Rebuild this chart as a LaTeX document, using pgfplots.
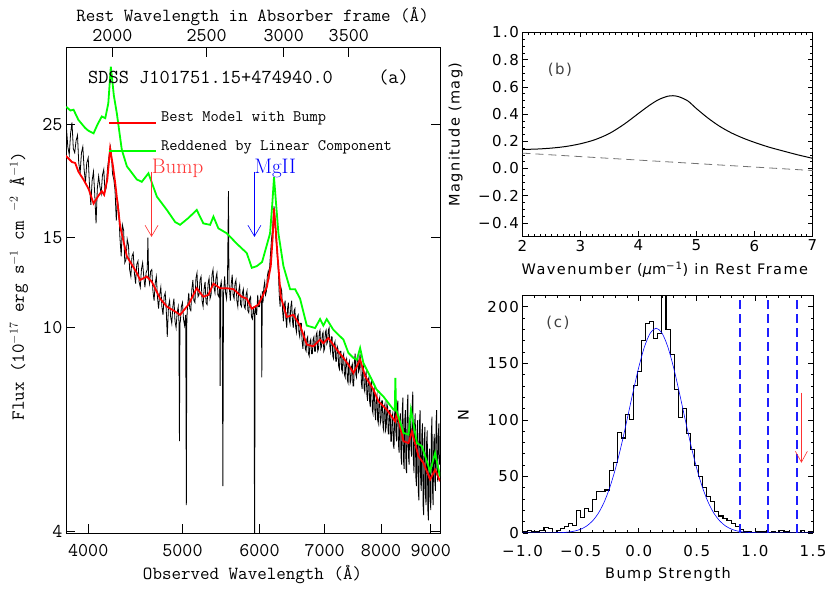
\documentclass[border=0pt]{standalone}
\usepackage{fontspec}
\usepackage{pgfplots}
\pgfplotsset{compat=1.18}
\usetikzlibrary{arrows.meta}
\newfontfamily\dv[LetterSpace=10]{DejaVu Sans}
\newcommand\tta{\ttfamily\fontsize{19.5bp}{21bp}\selectfont}
\newcommand\ttb{\ttfamily\fontsize{18.5bp}{20bp}\selectfont}
\newcommand\ttc{\ttfamily\fontsize{19.8bp}{21bp}\selectfont}
\newcommand\ttl{\ttfamily\fontsize{16bp}{18bp}\selectfont}
\newcommand\rmb{\rmfamily\fontsize{21bp}{23bp}\selectfont}
\newcommand\dvt{\dv\fontsize{15bp}{17bp}\selectfont}
\newcommand\dvl{\dv\fontsize{14.5bp}{17bp}\selectfont}
\definecolor{rd}{RGB}{255,0,0}
\definecolor{gr}{RGB}{0,255,0}
\definecolor{bl}{RGB}{0,0,255}
\definecolor{dbl}{RGB}{30,30,255}
\definecolor{lrd}{RGB}{255,50,50}
\begin{document}
\begin{tikzpicture}
\path[use as bounding box] (0,0) rectangle (830bp,593bp);
% ---------------- panel (a) ----------------
\begin{axis}[
  at={(66bp,60bp)}, anchor=south west, scale only axis,
  width=374bp, height=485.3bp,
  xmode=log, ymode=log,
  xmin=3796, xmax=9199, ymin=3.97, ymax=35.3,
  xtick={4000,5000,6000,7000,8000,9000},
  xticklabels={4000,5000,6000,7000,8000,9000},
  ytick={4,10,15,25}, yticklabels={4,10,15,25},
  xminorticks=false, yminorticks=false,
  xtick pos=bottom,
  tick align=inside, major tick length=9bp,
  tick style={black, line width=0.7bp},
  axis line style={line width=0.8bp},
  ticklabel style={font=\tta},
  xticklabel style={yshift=-8bp},
  xlabel={Observed Wavelength (Å)},
  xlabel style={font=\ttb, at={(rel axis cs:0.4987,-0.0865)}, anchor=center},
  ylabel={Flux (10$^{-17}$ erg s$^{-1}$ cm $^{-2}$ Å$^{-1}$)},
  ylabel style={font=\ttb, at={(rel axis cs:-0.126,0.509)}, anchor=center},
  clip=true
]
\addplot[black, line width=0.8bp] coordinates {
(3796,24.0)(3800,24.5)(3812,22.6)(3825,21.8)(3837,24.0)(3850,25.2)(3862,22.4)(3875,22.0)(3887,23.2)(3900,23.8)(3912,21.0)(3925,20.1)(3937,22.0)(3950,22.6)(3962,20.4)(3975,19.2)(3987,21.0)(4000,21.5)(4012,19.0)(4025,17.4)(4037,19.4)(4050,20.2)(4062,18.3)(4075,16.0)(4087,18.7)(4100,19.8)(4112,18.9)(4125,18.3)(4137,19.9)(4150,20.4)(4162,18.5)(4175,18.8)(4187,20.5)(4200,21.5)(4215,22.6)(4225,22.0)(4237,20.0)(4250,19.5)(4262,18.6)(4275,16.2)(4287,17.8)(4300,17.0)(4312,15.0)(4325,13.8)(4337,15.9)(4350,15.5)(4362,13.4)(4375,13.6)(4387,14.9)(4400,14.5)(4412,13.0)(4425,12.6)(4437,13.8)(4450,14.0)(4462,12.8)(4475,12.2)(4487,13.3)(4500,13.5)(4512,12.3)(4525,12.0)(4537,13.0)(4550,13.4)(4562,12.6)(4575,12.0)(4587,12.8)(4600,13.0)(4607,15.0)(4615,12.6)(4625,12.2)(4637,12.9)(4650,13.0)(4662,11.8)(4675,11.3)(4687,12.2)(4700,12.6)(4712,11.5)(4725,10.9)(4737,11.6)(4750,12.0)(4762,11.0)(4775,10.6)(4787,11.5)(4800,11.7)(4812,10.8)(4823,9.6)(4837,11.0)(4850,11.3)(4862,10.5)(4875,10.2)(4887,11.0)(4900,11.4)(4912,10.3)(4925,10.0)(4937,10.7)(4950,11.0)(4958,10.3)(4964,6.0)(4970,10.2)(4975,10.3)(4987,11.0)(5000,11.2)(5012,10.4)(5025,10.1)(5038,10.6)(5046,4.5)(5052,10.4)(5060,11.0)(5075,11.7)(5087,10.9)(5100,10.8)(5112,11.9)(5125,12.4)(5137,11.3)(5150,11.2)(5162,12.5)(5175,12.8)(5187,11.5)(5200,11.6)(5212,12.4)(5225,12.6)(5237,11.3)(5250,11.0)(5262,11.9)(5275,12.3)(5287,11.2)(5300,11.1)(5312,12.2)(5325,12.5)(5337,11.4)(5350,11.6)(5362,12.7)(5375,13.0)(5387,12.0)(5400,11.7)(5412,12.5)(5425,12.8)(5437,11.6)(5450,11.5)(5460,12.0)(5466,7.7)(5472,12.1)(5480,12.3)(5492,11.8)(5502,4.9)(5510,11.6)(5525,12.6)(5537,11.7)(5550,11.4)(5562,12.3)(5575,18.5)(5582,12.2)(5600,11.3)(5612,12.2)(5625,12.7)(5637,11.6)(5650,11.4)(5662,12.2)(5675,12.4)(5687,11.3)(5700,11.0)(5712,11.8)(5725,12.1)(5737,11.1)(5750,11.0)(5762,11.7)(5775,11.9)(5787,11.0)(5800,10.9)(5812,11.6)(5825,11.8)(5837,10.8)(5850,10.7)(5862,11.4)(5875,11.5)(5887,10.5)(5900,10.4)(5915,11.0)(5925,10.6)(5931,2.5)(5937,10.6)(5945,11.0)(5960,10.6)(5975,11.6)(5987,11.0)(6000,11.0)(6015,11.5)(6027,11.2)(6033,8.0)(6040,11.8)(6050,11.2)(6062,12.0)(6075,12.3)(6087,11.6)(6100,11.8)(6112,12.6)(6125,12.9)(6137,12.6)(6150,13.4)(6162,14.2)(6175,15.0)(6187,15.5)(6200,16.4)(6210,17.3)(6217,16.8)(6225,16.2)(6237,15.0)(6250,14.3)(6262,13.6)(6275,12.8)(6287,11.6)(6300,11.0)(6312,12.0)(6325,11.8)(6337,10.8)(6350,10.3)(6362,11.0)(6375,11.3)(6387,10.4)(6400,10.0)(6412,10.9)(6425,11.2)(6437,10.4)(6450,10.2)(6462,11.0)(6475,11.3)(6487,10.3)(6500,10.0)(6512,10.8)(6525,10.9)(6537,10.0)(6550,9.8)(6562,10.5)(6575,10.6)(6587,9.8)(6600,9.6)(6612,10.2)(6625,10.2)(6637,9.4)(6650,9.1)(6662,9.7)(6675,9.8)(6687,9.1)(6700,9.0)(6712,9.5)(6725,9.6)(6737,8.9)(6750,8.8)(6762,9.4)(6775,9.5)(6787,8.9)(6800,8.9)(6812,9.5)(6825,9.6)(6837,9.0)(6850,9.0)(6862,9.7)(6875,9.8)(6887,9.0)(6900,9.1)(6912,9.8)(6925,9.9)(6937,9.1)(6950,9.2)(6962,9.7)(6975,9.8)(6987,9.0)(7000,9.1)(7012,9.8)(7025,9.9)(7037,9.3)(7050,9.4)(7062,9.9)(7075,10.0)(7087,9.2)(7100,9.0)(7112,9.6)(7125,9.6)(7137,8.8)(7150,8.7)(7162,9.3)(7175,9.4)(7187,8.6)(7200,8.6)(7212,9.2)(7225,9.1)(7237,8.4)(7250,8.3)(7262,9.0)(7275,9.0)(7287,8.3)(7300,8.2)(7312,8.8)(7325,8.9)(7337,8.1)(7350,8.0)(7362,8.6)(7375,8.7)(7387,7.9)(7400,7.8)(7412,8.5)(7425,8.6)(7437,7.8)(7450,7.9)(7462,8.4)(7475,8.5)(7487,7.7)(7500,7.7)(7512,8.6)(7525,8.9)(7537,8.1)(7550,8.0)(7562,8.7)(7575,8.8)(7587,8.2)(7600,8.3)(7612,8.9)(7625,8.6)(7637,7.8)(7650,7.6)(7662,8.3)(7675,8.4)(7687,7.6)(7700,7.5)(7712,8.1)(7725,8.2)(7737,7.4)(7750,7.2)(7762,7.9)(7775,8.0)(7787,7.2)(7800,7.0)(7812,7.8)(7825,7.9)(7837,6.9)(7850,6.8)(7862,7.5)(7875,7.6)(7887,6.8)(7900,6.6)(7912,7.3)(7925,7.4)(7937,6.6)(7950,6.5)(7962,7.2)(7975,7.3)(7987,6.5)(8000,6.6)(8012,7.2)(8025,7.2)(8037,6.4)(8050,6.3)(8062,7.0)(8075,7.1)(8087,6.3)(8100,6.4)(8112,7.1)(8125,7.0)(8137,6.2)(8150,6.2)(8162,6.9)(8175,6.9)(8187,6.0)(8200,6.0)(8212,6.7)(8225,6.8)(8237,5.9)(8250,5.8)(8262,6.8)(8275,7.0)(8287,6.2)(8300,6.0)(8312,7.0)(8325,7.2)(8337,5.9)(8350,5.7)(8362,6.6)(8375,6.8)(8387,5.6)(8400,5.4)(8412,6.9)(8425,7.3)(8437,5.5)(8450,5.3)(8462,6.6)(8475,6.9)(8487,5.3)(8500,5.2)(8512,7.0)(8525,7.4)(8537,5.6)(8550,5.4)(8562,6.4)(8575,6.6)(8587,5.8)(8600,5.6)(8612,7.1)(8625,7.5)(8637,5.5)(8650,5.2)(8662,6.5)(8675,6.8)(8687,5.1)(8700,4.9)(8712,6.3)(8725,6.6)(8737,4.8)(8750,4.6)(8762,6.5)(8775,6.9)(8787,5.0)(8800,4.8)(8812,6.2)(8825,6.5)(8837,4.5)(8850,4.3)(8862,6.0)(8875,6.4)(8887,4.7)(8900,4.5)(8912,6.0)(8925,6.3)(8937,4.4)(8950,4.2)(8962,5.6)(8975,5.8)(8987,4.6)(9000,4.4)(9012,6.2)(9025,6.7)(9037,4.8)(9050,4.5)(9062,5.9)(9075,6.2)(9087,5.0)(9100,4.8)(9112,6.5)(9125,6.9)(9137,5.2)(9150,5.0)(9162,6.2)(9175,6.5)(9187,5.4)(9199,5.6)
};
\addplot[rd, line width=1.8bp] coordinates {
(3796,21.7)(3802,21.6)(3849,21.1)(3879,21.0)(3909,20.2)(3956,19.5)(4003,18.7)(4051,17.5)(4096,18.1)(4131,18.5)(4154,18.2)(4185,19.5)(4213,22.4)(4240,20.8)(4264,19.2)(4314,15.8)(4383,13.8)(4488,12.8)(4523,12.4)(4595,12.6)(4650,12.3)(4743,11.4)(4819,11.0)(4914,10.76)(4972,10.6)(5071,11.1)(5172,11.95)(5253,11.5)(5317,11.6)(5380,12.2)(5466,11.95)(5554,11.95)(5641,11.9)(5754,11.5)(5822,11.4)(5892,10.9)(5984,11.1)(6104,12.0)(6162,13.2)(6190,15.0)(6210,17.1)(6235,15.6)(6259,14.0)(6310,11.5)(6400,10.5)(6501,10.6)(6605,10.1)(6711,9.27)(6817,9.2)(6925,9.48)(6979,9.33)(7063,9.55)(7205,9.06)(7319,8.73)(7406,8.47)(7495,8.16)(7615,8.66)(7705,8.04)(7858,7.57)(7952,7.18)(8110,6.92)(8271,6.56)(8305,6.81)(8437,6.0)(8538,5.95)(8606,6.27)(8741,5.61)(8845,5.44)(8986,5.05)(9093,5.28)(9199,5.01)
};
\addplot[gr, line width=1.8bp] coordinates {
(3796,27.0)(3802,27.0)(3835,26.6)(3864,26.7)(3909,25.5)(3971,24.6)(4000,24.3)(4051,24.0)(4090,25.0)(4131,25.9)(4165,25.7)(4195,27.5)(4220,32.4)(4250,28.5)(4280,26.3)(4331,22.3)(4383,20.7)(4488,19.5)(4541,19.3)(4613,20.05)(4706,18.05)(4819,17.0)(4914,16.1)(4972,15.9)(5071,16.4)(5172,17.0)(5253,16.0)(5338,15.9)(5380,16.5)(5443,15.65)(5554,15.3)(5687,14.6)(5822,14.0)(5892,13.1)(5962,13.2)(6037,13.45)(6104,14.5)(6152,15.3)(6185,17.5)(6210,19.7)(6240,17.5)(6275,15.3)(6350,13.2)(6451,11.9)(6528,11.9)(6605,11.4)(6711,10.1)(6844,9.99)(6925,10.4)(6979,10.1)(7035,10.4)(7146,9.91)(7319,9.48)(7406,8.93)(7495,8.73)(7555,8.66)(7615,9.13)(7674,8.53)(7795,8.04)(7919,7.57)(8044,7.34)(8238,6.92)(8265,6.9)(8276,7.98)(8290,6.9)(8305,6.86)(8437,6.23)(8538,6.18)(8587,6.92)(8710,5.95)(8811,5.87)(8986,5.24)(9093,5.69)(9199,5.12)
};
% annotations
\node[anchor=west, inner sep=0, font=\ttc] at (rel axis cs:0.0588,0.9396) {SDSS J101751.15+474940.0};
\node[anchor=center, inner sep=0, font=\ttc] at (rel axis cs:0.8757,0.9396) {(a)};
\draw[rd, line width=1.8bp] (rel axis cs:0.115,0.8455) -- (rel axis cs:0.2406,0.8455);
\node[anchor=west, inner sep=0, font=\ttl] at (rel axis cs:0.254,0.855) {Best Model with Bump};
\draw[gr, line width=1.8bp] (rel axis cs:0.115,0.7871) -- (rel axis cs:0.2406,0.7871);
\node[anchor=west, inner sep=0, font=\ttl] at (rel axis cs:0.254,0.7954) {Reddened by Linear Component};
\node[anchor=west, inner sep=0, font=\rmb, text=lrd] at (rel axis cs:0.229,0.7521) {Bump};
\draw[lrd, line width=0.6bp, -{Straight Barb[length=11bp,width=13bp]}] (axis cs:4647,20.2) -- (axis cs:4647,15.06);
\node[anchor=west, inner sep=0, font=\rmb, text=bl] at (rel axis cs:0.5027,0.7521) {MgII};
\draw[bl, line width=0.6bp, -{Straight Barb[length=11bp,width=13bp]}] (axis cs:5929,20.2) -- (axis cs:5929,15.06);
\end{axis}
% top axis of panel (a)
\begin{axis}[
  at={(66bp,60bp)}, anchor=south west, scale only axis,
  width=374bp, height=485.3bp,
  xmode=log, xmin=1792.3, xmax=4343.3, ymin=0, ymax=1,
  axis x line*=top, axis y line=none,
  xtick={2000,2500,3000,3500}, xticklabels={2000,2500,3000,3500},
  xminorticks=false,
  tick align=inside, major tick length=9bp,
  tick style={black, line width=0.7bp},
  axis line style={line width=0.8bp},
  xticklabel style={font=\tta, yshift=2bp},
  xlabel={Rest Wavelength in Absorber frame (Å)},
  xlabel style={font=\ttb, at={(rel axis cs:0.4987,1.0633)}, anchor=center}
]
\end{axis}
% ---------------- panel (b) ----------------
\begin{axis}[
  at={(522.5bp,356.5bp)}, anchor=south west, scale only axis,
  width=290bp, height=204bp,
  xmin=2, xmax=7, ymin=-0.5, ymax=1.0,
  xtick={2,3,4,5,6,7}, xticklabels={2,3,4,5,6,7},
  ytick={-0.4,-0.2,0,0.2,0.4,0.6,0.8,1.0},
  yticklabels={−0.4,−0.2,0.0,0.2,0.4,0.6,0.8,1.0},
  minor x tick num=9, minor y tick num=3,
  tick align=inside, major tick length=5bp, minor tick length=2.5bp,
  tick style={black, line width=0.7bp},
  axis line style={line width=1bp},
  ticklabel style={font=\dvt},
  xlabel={Wavenumber ({\itshape μ}m\textsuperscript{−1}) in Rest Frame},
  xlabel style={font=\dvl, at={(rel axis cs:0.491,-0.164)}, anchor=center},
  ylabel={Magnitude (mag)},
  ylabel style={font=\dvl, at={(rel axis cs:-0.231,0.5)}, anchor=center},
]
\addplot[black, line width=1bp, smooth] coordinates {
(2.0,0.140)(2.25,0.143)(2.5,0.150)(2.75,0.162)(3.0,0.182)(3.25,0.212)(3.5,0.258)(3.75,0.325)(4.0,0.405)(4.2,0.468)(4.35,0.507)(4.5,0.531)(4.6,0.535)(4.7,0.527)(4.85,0.497)(5.0,0.440)(5.2,0.370)(5.4,0.310)(5.6,0.262)(5.8,0.224)(6.0,0.192)(6.25,0.157)(6.5,0.128)(6.75,0.100)(7.0,0.075)
};
\addplot[black!55, line width=0.8bp, dash pattern=on 8bp off 5bp] coordinates {(2,0.113)(7,-0.015)};
\node[font=\dvt, text=black!75, inner sep=0] at (rel axis cs:0.129,0.816) {(b)};
\end{axis}
% ---------------- panel (c) ----------------
\begin{axis}[
  at={(522.5bp,60bp)}, anchor=south west, scale only axis,
  width=290.5bp, height=237bp,
  xmin=-1, xmax=1.5, ymin=0, ymax=209.5,
  xtick={-1,-0.5,0,0.5,1,1.5},
  xticklabels={−1.0,−0.5,0.0,0.5,1.0,1.5},
  ytick={0,50,100,150,200}, yticklabels={0,50,100,150,200},
  minor x tick num=4, minor y tick num=4,
  tick align=inside, major tick length=5bp, minor tick length=2.5bp,
  tick style={black, line width=0.7bp},
  axis line style={line width=1bp},
  ticklabel style={font=\dvt},
  xticklabel style={yshift=-9bp},
  xlabel={Bump Strength},
  xlabel style={font=\dvl, at={(rel axis cs:0.501,-0.173)}, anchor=center},
  ylabel={N},
  ylabel style={font=\dvl, at={(rel axis cs:-0.204,0.498)}, anchor=center},
  clip=true
]
\addplot[black, line width=1.1bp, const plot] coordinates {
(-1.025,1)(-0.99,1)(-0.955,2)(-0.92,1)(-0.885,1)(-0.85,2)(-0.815,5)(-0.78,4)(-0.745,0)(-0.71,2)(-0.675,4)(-0.64,6)(-0.605,8)(-0.57,7)(-0.535,20)(-0.50,14)(-0.465,22)(-0.43,19)(-0.395,30)(-0.36,37)(-0.325,37)(-0.29,38)(-0.255,55)(-0.22,62)(-0.185,89)(-0.15,84)(-0.115,105)(-0.08,100)(-0.045,130)(-0.01,143)(0.025,170)(0.06,185)(0.095,187)(0.13,172)(0.165,176)(0.20,240)(0.235,180)(0.27,158)(0.305,127)(0.34,102)(0.375,110)(0.41,88)(0.445,74)(0.48,60)(0.515,50)(0.55,40)(0.585,32)(0.62,28)(0.655,19)(0.69,15)(0.725,13)(0.76,11)(0.795,8)(0.83,6)(0.865,3)(0.90,1)(0.935,1)(0.97,0)(1.005,1)(1.04,1)(1.075,1)(1.11,0)(1.145,1)(1.18,0)(1.215,2)(1.25,1)(1.285,0)(1.32,0)(1.355,0)(1.39,2)(1.425,0)(1.46,1)(1.495,1)(1.53,1)
};
\addplot[color=bl, line width=0.6bp, smooth] coordinates {
(-1.0,0)(-0.8,0.01)(-0.7,0.2)(-0.65,0.43)(-0.6,0.89)(-0.55,1.76)(-0.5,3.34)(-0.45,6.03)(-0.4,10.4)(-0.35,17.0)(-0.3,26.7)(-0.25,39.9)(-0.2,56.9)(-0.15,77.3)(-0.1,100.3)(-0.05,124.0)(0.0,146.3)(0.05,164.7)(0.1,176.8)(0.15,181.0)(0.2,176.8)(0.25,164.7)(0.3,146.3)(0.35,124.0)(0.4,100.3)(0.45,77.3)(0.5,56.9)(0.55,39.9)(0.6,26.7)(0.65,17.0)(0.7,10.4)(0.75,6.03)(0.8,3.34)(0.85,1.76)(0.9,0.89)(0.95,0.43)(1.0,0.2)(1.1,0.03)(1.5,0)
};
\draw[draw=dbl, line width=1.8bp, dash pattern=on 9bp off 5bp] (axis cs:0.87,0) -- (axis cs:0.87,209.5);
\draw[draw=dbl, line width=1.8bp, dash pattern=on 9bp off 5bp] (axis cs:1.11,0) -- (axis cs:1.11,209.5);
\draw[draw=dbl, line width=2bp, dash pattern=on 9bp off 5bp] (axis cs:1.36,0) -- (axis cs:1.36,209.5);
\draw[lrd, line width=0.6bp, -{Straight Barb[length=11bp,width=12bp]}] (axis cs:1.40,124) -- (axis cs:1.40,62);
\node[font=\dvt, text=black!75, inner sep=0] at (rel axis cs:0.122,0.886) {(c)};
\end{axis}
\end{tikzpicture}
\end{document}
